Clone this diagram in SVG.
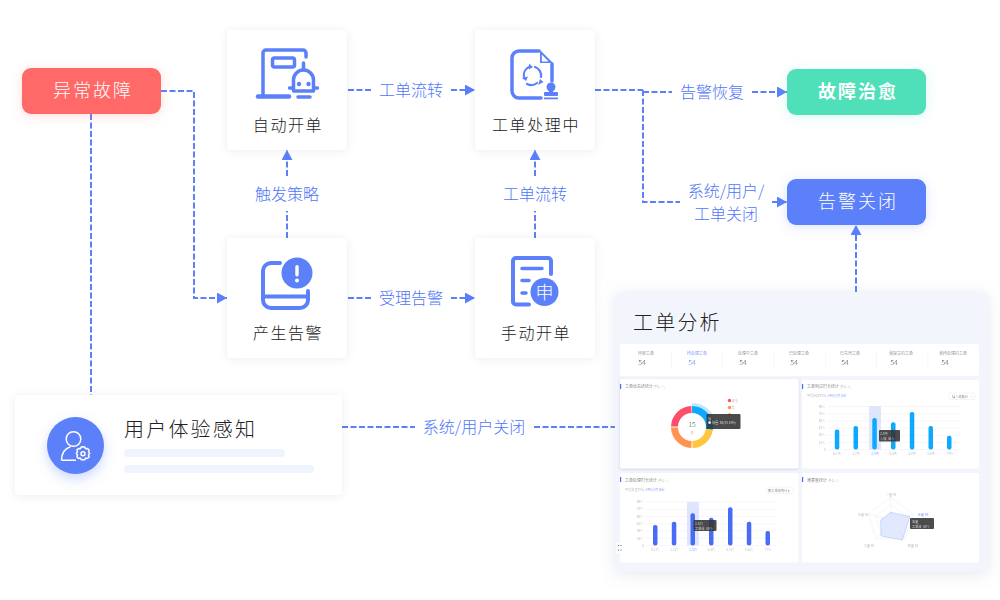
<svg xmlns="http://www.w3.org/2000/svg" width="1000" height="600" viewBox="0 0 1000 600">
<style>
text{font-family:"Noto Sans CJK SC","Noto Sans",sans-serif;font-weight:300}
.card{fill:#fff;filter:url(#sh)}
.nl{font-size:16px;fill:#222;letter-spacing:1.6px;text-anchor:middle}
.lb{font-size:16px;fill:#4f76f8;text-anchor:middle}
.pill{font-size:18px;fill:#fff;letter-spacing:2px;text-anchor:middle}
.cn{fill:none;stroke:#5b80fa;stroke-width:2;stroke-dasharray:6 2.500}
.ic{fill:none;stroke:#5b80fa;stroke-width:3.500;stroke-linecap:round;stroke-linejoin:round}
.icf{fill:#5b80fa}
.sc{fill:#fff}
.t4{font-size:4px;fill:#666}
.t3{font-size:3.2px;fill:#aaa;text-anchor:middle}
.st{font-size:4px;fill:#777;text-anchor:middle}
.sn{font-size:7px;fill:#555;text-anchor:middle}
.grid{stroke:#f0f0f3;stroke-width:.6}
.tip{fill:#333;opacity:.88}
.tt{font-size:3.2px;fill:#eee}
</style>
<defs>
<filter id="sh" x="-20%" y="-20%" width="140%" height="140%"><feDropShadow dx="0" dy="1" stdDeviation="5" flood-color="#000" flood-opacity=".07"/></filter>
<filter id="shr" x="-20%" y="-40%" width="140%" height="180%"><feDropShadow dx="0" dy="2" stdDeviation="6" flood-color="#ff6a68" flood-opacity=".22"/></filter>
<filter id="shg" x="-20%" y="-40%" width="140%" height="180%"><feDropShadow dx="0" dy="2" stdDeviation="6" flood-color="#4fe0b9" flood-opacity=".22"/></filter>
<filter id="shb" x="-20%" y="-40%" width="140%" height="180%"><feDropShadow dx="0" dy="2" stdDeviation="6" flood-color="#5b7ffa" flood-opacity=".22"/></filter>
<filter id="sh2" x="-20%" y="-20%" width="140%" height="140%"><feDropShadow dx="0" dy="2" stdDeviation="8" flood-color="#8a94b8" flood-opacity=".22"/></filter>
<filter id="sh3" x="-50%" y="-50%" width="200%" height="200%"><feDropShadow dx="0" dy="5" stdDeviation="6" flood-color="#5b80fa" flood-opacity=".3"/></filter>
<filter id="sh4" x="-20%" y="-20%" width="140%" height="140%"><feDropShadow dx="0" dy="1" stdDeviation="1.500" flood-color="#7a84b0" flood-opacity=".3"/></filter>
<filter id="bl" x="0" y="0" width="100%" height="100%"><feGaussianBlur stdDeviation=".35"/></filter>
<marker id="ar" viewBox="0 0 10 11" refX="10" refY="5.500" markerWidth="10" markerHeight="11" markerUnits="userSpaceOnUse" orient="auto"><path d="M0 0L10 5.500L0 11Z" fill="#5b80fa"/></marker>
</defs>

<g id="connectors">
<path class="cn" d="M161 91H194V298H227" marker-end="url(#ar)"/>
<path class="cn" d="M91 114V395"/>
<path class="cn" d="M287 238V211"/>
<path class="cn" d="M287 176V150" marker-end="url(#ar)"/>
<path class="cn" d="M348 90H372"/>
<path class="cn" d="M451 90H475" marker-end="url(#ar)"/>
<path class="cn" d="M348 298H372"/>
<path class="cn" d="M451 298H475" marker-end="url(#ar)"/>
<path class="cn" d="M535 238V211"/>
<path class="cn" d="M535 176V150" marker-end="url(#ar)"/>
<path class="cn" d="M595 90H643"/>
<path class="cn" d="M643 92H672"/>
<path class="cn" d="M752 92H787" marker-end="url(#ar)"/>
<path class="cn" d="M643 90V202H680"/>
<path class="cn" d="M772 202H787" marker-end="url(#ar)"/>
<path class="cn" d="M856 292V225" marker-end="url(#ar)"/>
<path class="cn" d="M342 427H415"/>
<path class="cn" d="M534 427H615"/>
</g>
<g id="connector-labels">
<text class="lb" x="411" y="96">工单流转</text>
<text class="lb" x="411" y="304">受理告警</text>
<text class="lb" x="287" y="200">触发策略</text>
<text class="lb" x="535" y="200">工单流转</text>
<text class="lb" x="712" y="98">告警恢复</text>
<text class="lb" x="726" y="197">系统/用户/</text>
<text class="lb" x="726" y="220">工单关闭</text>
<text class="lb" x="474" y="433">系统/用户关闭</text>
</g>

<g id="node-fault"><rect x="22" y="68" width="139" height="46" rx="9" fill="#ff6a68" filter="url(#shr)"/><text class="pill" x="93" y="97">异常故障</text></g>
<g id="node-heal"><rect x="787" y="69" width="139" height="46" rx="9" fill="#4fe0b9" filter="url(#shg)"/><text class="pill" x="858" y="98" style="font-weight:700">故障治愈</text></g>
<g id="node-close"><rect x="787" y="179" width="139" height="46" rx="9" fill="#5b7ffa" filter="url(#shb)"/><text class="pill" x="858" y="208">告警关闭</text></g>

<g id="node-auto">
<rect class="card" x="227" y="30" width="120" height="120" rx="4"/>
<path class="ic" d="M263 95V53a3 3 0 0 1 3-3H303a3 3 0 0 1 3 3V57"/>
<path class="ic" style="stroke-width:4.500" d="M258 96.500H289"/>
<rect class="ic" x="272.500" y="58" width="22" height="9" rx="2"/>
<path class="ic" d="M293.500 91V80a10 10 0 0 1 20 0V91ZM303.500 69V63M289.500 88H293M314 88H317.500M298 97H310"/>
<circle class="icf" cx="299" cy="84" r="2.200"/><circle class="icf" cx="308.500" cy="84" r="2.200"/>
<text class="nl" x="288" y="131">自动开单</text>
</g>
<g id="node-process">
<rect class="card" x="475" y="30" width="120" height="120" rx="4"/>
<path class="ic" d="M539 51H519a7 7 0 0 0-7 7V91a7 7 0 0 0 7 7H541M552 64V81"/>
<path class="icf" d="M540 50L553 63H540Z"/><path d="M541.800 54.500L548.500 61.500H541.800Z" fill="#fff"/>
<path class="ic" style="stroke-width:2.200" d="M529 67a9 9 0 0 0-5 10M527 84a9 9 0 0 0 10-1M541 77a9 9 0 0 0-6-10"/>
<path class="icf" d="M529 63.500L533 67L529 69.500ZM522 78L528 76.500L526 81ZM538 85L540 79L543.500 82Z"/>
<circle class="icf" cx="551" cy="87" r="4.500"/><rect class="icf" x="549" y="89" width="4" height="4"/>
<rect class="icf" x="544" y="92" width="14" height="4" rx="1"/><rect class="icf" x="544" y="97.500" width="14" height="1.800"/>
<text class="nl" x="536" y="131">工单处理中</text>
</g>
<g id="node-alarm">
<rect class="card" x="227" y="238" width="120" height="120" rx="4"/>
<path class="ic" style="stroke-width:4" d="M280 263H271a8 8 0 0 0-8 8V300a8 8 0 0 0 8 8H300a8 8 0 0 0 8-8V291M263 296.500H308"/>
<circle class="icf" cx="297" cy="273" r="15.500"/>
<rect x="295.300" y="265" width="3.400" height="11.500" rx="1.700" fill="#fff"/><circle cx="297" cy="280.500" r="2" fill="#fff"/>
<text class="nl" x="288" y="339">产生告警</text>
</g>
<g id="node-manual">
<rect class="card" x="475" y="238" width="120" height="120" rx="4"/>
<path class="ic" style="stroke-width:4" d="M529 304.500H516a3 3 0 0 1-3-3V261a3 3 0 0 1 3-3H548a3 3 0 0 1 3 3V274"/>
<path class="ic" d="M522 268.500H542M522 280.500H529M522 293H526"/>
<circle class="icf" cx="544.500" cy="292" r="14"/>
<text x="544.500" y="298.500" font-size="18" fill="#fff" text-anchor="middle">申</text>
<text class="nl" x="536" y="339">手动开单</text>
</g>
<g id="node-perception">
<rect class="card" x="15" y="395" width="327" height="100" rx="4"/>
<circle cx="75.500" cy="445.500" r="28.500" fill="#5b80fa" filter="url(#sh3)"/>
<g fill="none" stroke="#fff" stroke-width="1.500" stroke-linejoin="round">
<circle cx="73.500" cy="439" r="7.300"/>
<path d="M61.500 460.300c0-7.500 3-11.500 9-13.500M61.500 460.300H76"/>
<path d="M83 446.700l1.800.4.800 1.700 1.900-.4 1.600 1.700-.6 1.800 1.200 1.500-1.200 1.500.6 1.800-1.600 1.700-1.900-.4-.8 1.700-3.600 0-.8-1.700-1.900.4-1.600-1.700.6-1.800-1.200-1.500 1.200-1.500-.6-1.800 1.600-1.700 1.900.4.800-1.700z"/>
<circle cx="83" cy="453.700" r="2"/>
</g>
<text x="124" y="437" font-size="20" letter-spacing="2.200" fill="#222">用户体验感知</text>
<rect x="124" y="449" width="161" height="8" rx="4" fill="#eef3fd"/>
<rect x="124" y="465" width="190" height="8" rx="4" fill="#eef3fd"/>
</g>

<g id="node-analysis">
<rect x="615" y="292" width="373" height="280" rx="6" fill="#f3f5fd" filter="url(#sh2)"/>
<text x="633" y="330" font-size="20" letter-spacing="2.200" fill="#222">工单分析</text>
<g filter="url(#bl)">
<rect class="sc" x="620" y="344" width="359" height="32" rx="2"/>
<g stroke="#f2f3f7" stroke-width=".6"><path d="M671.500 350V370M722.500 350V370M774 350V370M825.500 350V370M876.500 350V370M928 350V370"/></g>
<text class="st" x="646" y="355">待审工单</text><text class="sn" x="642" y="365">54</text>
<text class="st" x="697" y="355" style="fill:#5b7ffa">待处理工单</text><text class="sn" x="692" y="365" style="fill:#5b7ffa">54</text>
<text class="st" x="748" y="355">处理中工单</text><text class="sn" x="743" y="365">54</text>
<text class="st" x="799" y="355">已处理工单</text><text class="sn" x="794" y="365">54</text>
<text class="st" x="850" y="355">已关闭工单</text><text class="sn" x="845" y="365">54</text>
<text class="st" x="901" y="355">我提交的工单</text><text class="sn" x="894" y="365">54</text>
<text class="st" x="953" y="355">我待处理的工单</text><text class="sn" x="945" y="365">54</text>

<rect class="sc" x="620" y="379" width="178.500" height="89.500" rx="2" filter="url(#sh4)"/>
<rect class="sc" x="802" y="380" width="177" height="88.500" rx="2"/>
<rect class="sc" x="620" y="473" width="178.500" height="89.500" rx="2"/>
<rect class="sc" x="802" y="473" width="177" height="89.500" rx="2"/>
<rect x="620" y="384" width="1.200" height="5" fill="#4a6cf7"/><rect x="802" y="384" width="1.200" height="5" fill="#4a6cf7"/>
<rect x="620" y="477" width="1.200" height="5" fill="#4a6cf7"/><rect x="802" y="477" width="1.200" height="5" fill="#4a6cf7"/>
<text class="t4" x="625" y="388">工单优先级统计<tspan fill="#aaa" font-size="3">(单位:个)</tspan></text>
<text class="t4" x="807" y="388">工单响应时长统计<tspan fill="#aaa" font-size="3"> (单位:人)</tspan></text>
<text class="t4" x="625" y="482">工单处理时长统计<tspan fill="#aaa" font-size="3"> (单位:个)</tspan></text>
<text class="t4" x="807" y="482">满意度统计<tspan fill="#aaa" font-size="3"> (单位:个)</tspan></text>

<g fill="none" stroke-width="7">
<path d="M692 404.500A22.500 22.500 0 0 1 714.500 427" stroke="#bfe6ff" stroke-width="3"/>
<path d="M692 409.500A17.500 17.500 0 0 1 709.300 429.500" stroke="#0aa9ff"/>
<path d="M709.300 429.500A17.500 17.500 0 0 1 692.500 444.500" stroke="#ffc53d"/>
<path d="M691.500 444.500A17.500 17.500 0 0 1 674.500 427.500" stroke="#ff9350"/>
<path d="M674.500 426.500A17.500 17.500 0 0 1 691.500 409.500" stroke="#ff4d6a"/>
</g>
<text x="692" y="426.500" font-size="7" fill="#555" text-anchor="middle">15</text>
<text x="692" y="433.500" font-size="3.500" fill="#aaa" text-anchor="middle">总</text>
<circle cx="729.500" cy="400.500" r="1.700" fill="#ff4d6a"/><circle cx="729.500" cy="407.500" r="1.700" fill="#ff9350"/><circle cx="729.500" cy="414.500" r="1.700" fill="#ffc53d"/><circle cx="729.500" cy="421.500" r="1.700" fill="#0aa9ff"/>
<text class="t3" x="735" y="401.500">紧急</text><text class="t3" x="733" y="408.500">高</text>
<rect class="tip" x="706.500" y="414" width="34" height="15" rx="1"/>
<text class="tt" x="708" y="419.500">低</text><text class="tt" x="708" y="423.500">● 数量: 50(33.33%)</text>

<path class="grid" d="M828 406.500H960M828 413.700H960M828 421H960M828 428H960M828 435.300H960M828 442.500H960M828 449.500H960"/>
<rect x="869" y="406" width="12" height="43.500" fill="#dfe5fd"/>
<g fill="#0aa9ff"><rect x="834.800" y="429.500" width="4.500" height="20" rx="2"/><rect x="853.500" y="426" width="4.500" height="23.500" rx="2"/><rect x="872.300" y="418" width="4.500" height="31.500" rx="2"/><rect x="891" y="422.300" width="4.500" height="27.200" rx="2"/><rect x="909.800" y="412" width="4.500" height="37.500" rx="2"/><rect x="928.500" y="426" width="4.500" height="23.500" rx="2"/><rect x="947" y="435.700" width="4.500" height="13.800" rx="2"/></g>
<text class="t3" x="822" y="408">90人</text><text class="t3" x="822" y="415">75人</text><text class="t3" x="822" y="422">60人</text><text class="t3" x="822" y="429">45人</text><text class="t3" x="822" y="436">30人</text><text class="t3" x="822" y="443.500">15人</text><text class="t3" x="825" y="451">0</text>
<text class="t3" x="837" y="455">0-1天</text><text class="t3" x="856" y="455">1-2天</text><text class="t3" x="875" y="455" style="fill:#5b7ffa">2-3天</text><text class="t3" x="893" y="455">3-4天</text><text class="t3" x="912" y="455">4-5天</text><text class="t3" x="931" y="455">5-6天</text><text class="t3" x="950" y="455">7天+</text>
<text class="t3" x="817" y="397">平均响应时长:</text><text class="t3" x="837" y="397" style="fill:#5b7ffa">1天5小时15分</text>
<rect x="949" y="393" width="26" height="6.500" rx="1" fill="#fff" stroke="#e8e8ee" stroke-width=".5"/><text class="t3" x="960" y="397.500" style="fill:#666">插入数据分</text><text class="t3" x="971.500" y="397.500">×</text>
<rect class="tip" x="879" y="430" width="21" height="11.500" rx="1"/><text class="tt" x="880" y="434.500">2-3天</text><text class="tt" x="880" y="439.500">人数: 48人</text>

<path class="grid" d="M646 502H778M646 509.300H778M646 516.500H778M646 523.700H778M646 531H778M646 538H778M646 545.300H778"/>
<rect x="687" y="502" width="12" height="43.500" fill="#dfe5fd"/>
<g fill="#4a6cf7"><rect x="653" y="525" width="4.500" height="20.500" rx="2"/><rect x="671.800" y="521.700" width="4.500" height="23.800" rx="2"/><rect x="690.500" y="513.300" width="4.500" height="32.200" rx="2"/><rect x="709" y="517.700" width="4.500" height="27.800" rx="2"/><rect x="728" y="507.300" width="4.500" height="38.200" rx="2"/><rect x="746.800" y="521.700" width="4.500" height="23.800" rx="2"/><rect x="765.500" y="531" width="4.500" height="14.500" rx="2"/></g>
<text class="t3" x="640" y="503">90个</text><text class="t3" x="640" y="510">75个</text><text class="t3" x="640" y="517.500">60个</text><text class="t3" x="640" y="525">45个</text><text class="t3" x="640" y="532">30个</text><text class="t3" x="640" y="539.500">15个</text><text class="t3" x="643" y="546.500">0</text>
<text class="t3" x="655" y="551">0-1周</text><text class="t3" x="674" y="551">1-2周</text><text class="t3" x="693" y="551" style="fill:#5b7ffa">2-3周</text><text class="t3" x="711" y="551">3-4周</text><text class="t3" x="730" y="551">4-5周</text><text class="t3" x="749" y="551">5-6周</text><text class="t3" x="768" y="551">7周+</text>
<text class="t3" x="635" y="491">平均处理时长:</text><text class="t3" x="655" y="491" style="fill:#5b7ffa">2天5小时16分</text>
<rect x="767" y="487" width="26" height="6.500" rx="1" fill="#fff" stroke="#e8e8ee" stroke-width=".5"/><text class="t3" x="779" y="491.500" style="fill:#666">按工单数统计 ▾</text>
<rect class="tip" x="693.500" y="520" width="23" height="11" rx="1"/><text class="tt" x="695" y="524.500">2-3周</text><text class="tt" x="695" y="529.500">工单数: 48个</text>
<rect x="616" y="543" width="8" height="10" rx="1" fill="#fff"/><path d="M618 545h1v1h-1zM620.500 545h1v1h-1zM618 549.500h1v1h-1zM620.500 549.500h1v1h-1z" fill="#667"/>

<g fill="none" stroke="#eceef3" stroke-width=".6">
<path d="M890.700 497.300L913.500 514L905 538.700L876.400 538.700L868 514Z"/>
<path d="M890.700 505L906 516L900 533L881.400 533L875.500 516Z"/>
<path d="M890.700 512.500L899 519L895.500 527L885.500 527L882.500 519Z"/>
<path d="M890.700 520V497.300M890.700 520L913.500 514M890.700 520L905 538.700M890.700 520L876.400 538.700M890.700 520L868 514"/>
</g>
<path d="M890.700 512.300L910 516.700L902.300 540L881 536L880.700 520Z" fill="#dbe2fe" fill-opacity=".8" stroke="#a9baf9" stroke-width=".5"/>
<text class="t3" x="891" y="496">一星 58</text><text class="t3" x="863" y="516">三星 58</text><text class="t3" x="869" y="547">二星 58</text><text class="t3" x="913" y="547">四星 58</text><text class="t3" x="923" y="516" style="fill:#5b7ffa">五星 58</text>
<rect class="tip" x="910" y="518" width="24" height="11" rx="1"/><text class="tt" x="912" y="522.500">五星</text><text class="tt" x="912" y="527.500">工单数: 48个</text>
</g>
</g>
</svg>
